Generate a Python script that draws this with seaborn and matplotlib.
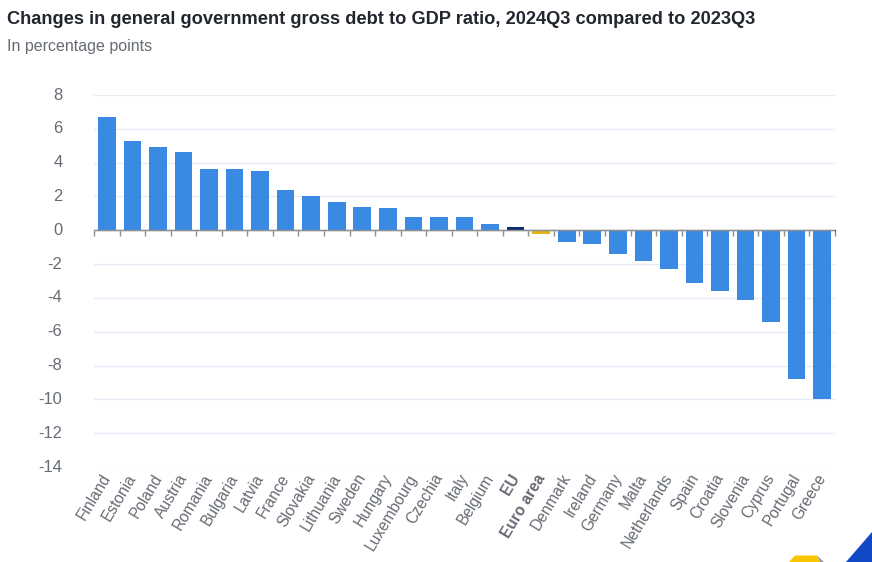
#!/usr/bin/env python3
import numpy as np
import pandas as pd
import seaborn as sns
import matplotlib.pyplot as plt
from matplotlib.patches import Polygon
from matplotlib.transforms import ScaledTranslation

countries = ['Finland', 'Estonia', 'Poland', 'Austria', 'Romania', 'Bulgaria', 'Latvia', 'France',
             'Slovakia', 'Lithuania', 'Sweden', 'Hungary', 'Luxembourg', 'Czechia', 'Italy', 'Belgium',
             'EU', 'Euro area', 'Denmark', 'Ireland', 'Germany', 'Malta', 'Netherlands', 'Spain',
             'Croatia', 'Slovenia', 'Cyprus', 'Portugal', 'Greece']
changes = [6.7, 5.3, 4.9, 4.6, 3.6, 3.6, 3.5, 2.4, 2.0, 1.7, 1.4, 1.3, 0.8, 0.8, 0.8, 0.4,
           0.2, -0.2, -0.7, -0.8, -1.4, -1.8, -2.3, -3.1, -3.6, -4.1, -5.4, -8.8, -10.0]
y_ticks = [8, 6, 4, 2, 0, -2, -4, -6, -8, -10, -12, -14]
highlight = {'EU': '#0e2a6e', 'Euro area': '#e3b314'}

df = pd.DataFrame({'country': countries, 'change': changes})
palette = {c: highlight.get(c, '#3a8ae4') for c in countries}

sns.set_style('white')
plt.rcParams['font.family'] = ['Liberation Sans', 'DejaVu Sans']

fig = plt.figure(figsize=(8.72, 5.62), dpi=100)
ax = fig.add_axes([94 / 872, 1 - 467 / 562, 741 / 872, 372 / 562])

sns.barplot(data=df, x='country', y='change', hue='country', palette=palette, dodge=False,
            legend=False, width=0.69, saturation=1, linewidth=0, ax=ax, zorder=3)

ax.set_xlim(-0.5, len(countries) - 0.5)
ax.set_ylim(-14, 8)
ax.set_xlabel('')
ax.set_ylabel('')
sns.despine(ax=ax, left=True, bottom=True)

# Horizontal grid
ax.set_yticks(y_ticks)
ax.set_yticklabels([str(v) for v in y_ticks])
ax.grid(axis='y', color='#e6ebf5', linewidth=1)
ax.set_axisbelow(True)
ax.tick_params(axis='y', length=0, pad=22.7, labelsize=11.9, labelcolor='#666b73')
for lab in ax.get_yticklabels():
    lab.set_ha('right')
    lab.set_transform(lab.get_transform() + ScaledTranslation(0, 1.5 / 100, fig.dpi_scale_trans))

# Country labels stay at the bottom of the plot
ax.set_xticks(range(len(countries)))
ax.set_xticklabels(countries, rotation=59, ha='right', va='top', rotation_mode='anchor')
ax.tick_params(axis='x', length=0, pad=3, labelsize=11.2, labelcolor='#666b73')
for lab in ax.get_xticklabels():
    lab.set_transform(lab.get_transform() + ScaledTranslation(-6 / 100, 0, fig.dpi_scale_trans))
    if lab.get_text() in highlight:
        lab.set_fontweight('bold')

# Zero line with ticks between the categories, above 0.5 the secondary axis sits on its top side
ax.axhline(0, color='#8f8f8f', linewidth=1, zorder=4)
zero_axis = ax.secondary_xaxis(14 / 22)
zero_axis.set_xticks(np.arange(len(countries) + 1) - 0.5)
zero_axis.set_xticklabels([])
zero_axis.tick_params(axis='x', length=4, width=1, color='#8f8f8f', direction='in')

fig.text(7 / 872, 1 - 20 / 562, 'Changes in general government gross debt to GDP ratio, 2024Q3 compared to 2023Q3',
         fontsize=13.15, fontweight='bold', color='#22262e', va='center')
fig.text(7 / 872, 1 - 47 / 562, 'In percentage points', fontsize=11.5, color='#666b73', va='center')

# Corner of the logo cut off by the screenshot
fig.add_artist(Polygon([(846 / 872, 0), (872 / 872, 0), (872 / 872, 30 / 562)],
                       transform=fig.transFigure, color='#0f47c4', lw=0))
fig.add_artist(Polygon([(789 / 872, 0), (795 / 872, 6.5 / 562), (817 / 872, 6.5 / 562), (820 / 872, 0)],
                       transform=fig.transFigure, color='#f7c600', lw=0))
fig.add_artist(Polygon([(820 / 872, 0), (817 / 872, 6.5 / 562), (824 / 872, 0)],
                       transform=fig.transFigure, color='#9a9a9a', lw=0))

fig.savefig('out.png', dpi=100)
